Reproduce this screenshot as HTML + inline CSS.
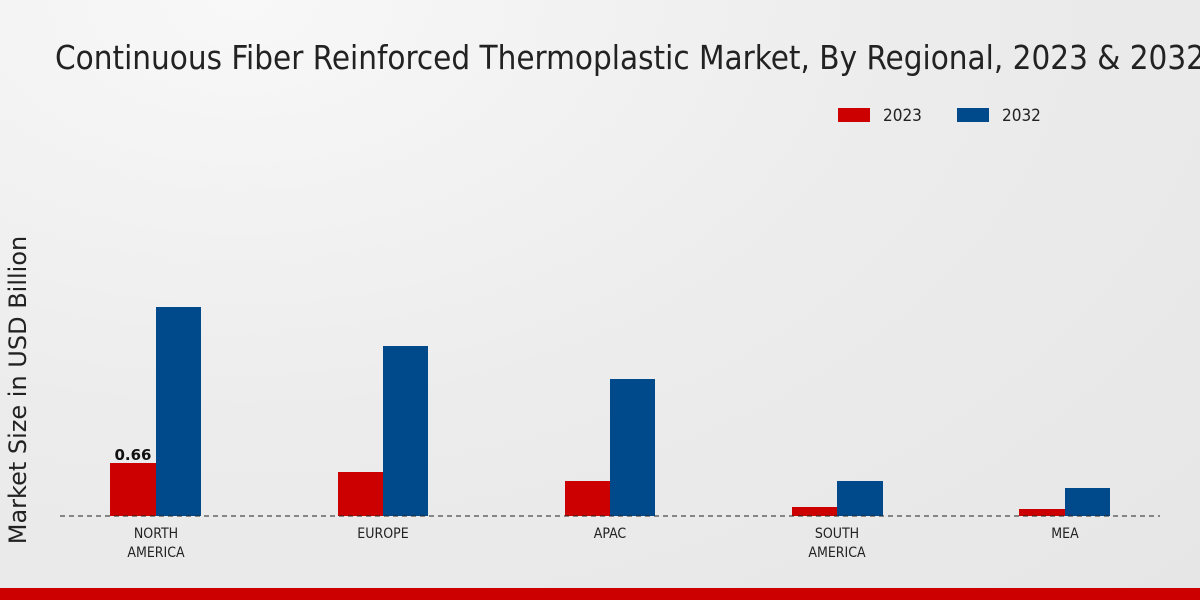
<!DOCTYPE html>
<html><head><meta charset="utf-8"><style>
html,body{margin:0;padding:0;}
body{width:1200px;height:600px;overflow:hidden;background:radial-gradient(ellipse at 20% 0%,#f8f8f8 0%,#ececec 50%,#e6e6e6 100%);font-family:"DejaVu Sans","Liberation Sans",sans-serif;}
</style></head><body>
<svg width="1200" height="600" xmlns="http://www.w3.org/2000/svg" style="position:absolute;left:0;top:0">
<text x="55" y="69" font-family="DejaVu Sans Condensed, DejaVu Sans, sans-serif" font-size="33" fill="#222" textLength="1150" lengthAdjust="spacingAndGlyphs">Continuous Fiber Reinforced Thermoplastic Market, By Regional, 2023 &amp; 2032</text>
<rect x="838" y="108" width="32" height="14" fill="#cc0000"/>
<text x="883" y="121" font-size="17" fill="#222" font-family="DejaVu Sans Condensed, DejaVu Sans, sans-serif">2023</text>
<rect x="957" y="108" width="32" height="14" fill="#004a8c"/>
<text x="1002" y="121" font-size="17" fill="#222" font-family="DejaVu Sans Condensed, DejaVu Sans, sans-serif">2032</text>
<text transform="translate(26,390) rotate(-90)" text-anchor="middle" font-size="24" fill="#222">Market Size in USD Billion</text>
<g fill="#cc0000">
<rect x="110" y="463" width="46" height="53"/>
<rect x="338" y="472" width="45" height="44"/>
<rect x="565" y="481" width="45" height="35"/>
<rect x="792" y="507" width="45" height="9"/>
<rect x="1019" y="509" width="46" height="7"/>
</g>
<g fill="#004a8c">
<rect x="156" y="307" width="45" height="209"/>
<rect x="383" y="346" width="45" height="170"/>
<rect x="610" y="379" width="45" height="137"/>
<rect x="837" y="481" width="46" height="35"/>
<rect x="1065" y="488" width="45" height="28"/>
</g>
<line x1="60" y1="516" x2="1160" y2="516" stroke="#222" stroke-dasharray="5,4" stroke-width="1"/>
<text x="133" y="460" text-anchor="middle" font-size="15" font-weight="bold" fill="#111">0.66</text>
<g font-size="14" fill="#222" text-anchor="middle" font-family="DejaVu Sans Condensed, DejaVu Sans, sans-serif">
<text x="156" y="538">NORTH</text><text x="156" y="557">AMERICA</text>
<text x="383" y="538">EUROPE</text>
<text x="610" y="538">APAC</text>
<text x="837" y="538">SOUTH</text><text x="837" y="557">AMERICA</text>
<text x="1065" y="538">MEA</text>
</g>
<rect x="0" y="588" width="1200" height="12" fill="#cc0000"/>
</svg>
</body></html>
